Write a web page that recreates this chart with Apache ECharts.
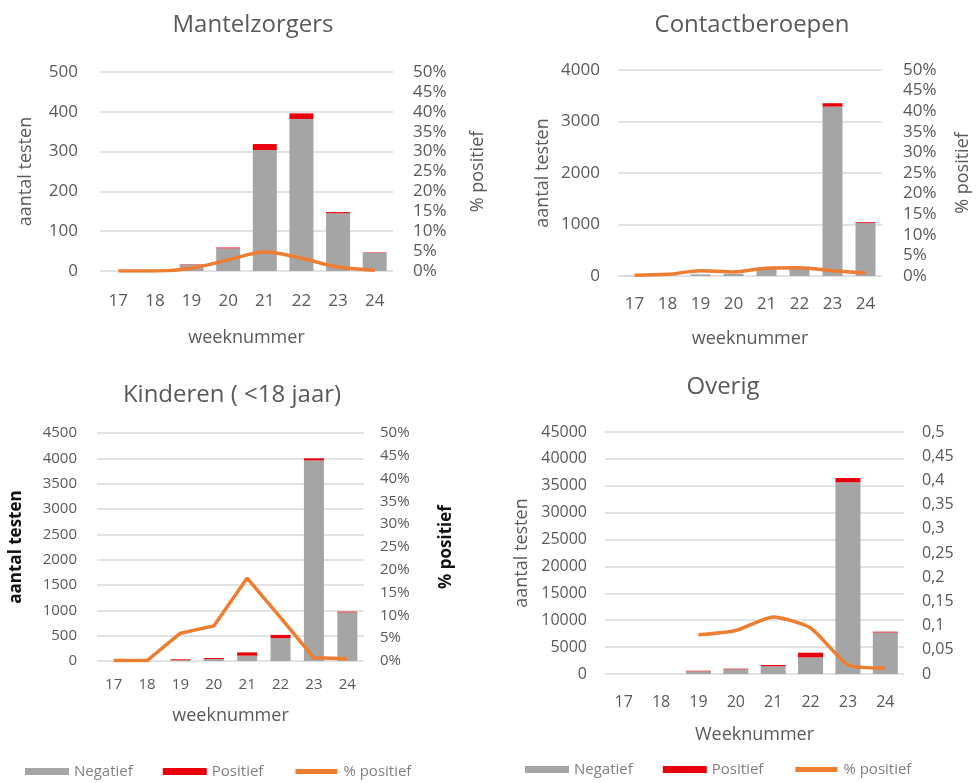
<!DOCTYPE html>
<html>
<head>
<meta charset="utf-8">
<script src="https://cdn.jsdelivr.net/npm/echarts@6/dist/echarts.min.js"></script>
<style>
  html, body { margin: 0; padding: 0; background: #fff; }
  #chart { width: 977px; height: 783px; }
</style>
</head>
<body>
<div id="chart"></div>
<script>
// weeks
const weeks = ['17', '18', '19', '20', '21', '22', '23', '24']

// Mantelzorgers
const mantelNeg = [0, 0, 16, 57, 304, 382, 145, 46]
const mantelPos = [0, 0, 1, 2, 15, 14, 3, 1]
const mantelPct = [0, 0, 0.007, 0.028, 0.048, 0.032, 0.01, 0.002]

// Contactberoepen
const contactNeg = [5, 10, 30, 40, 150, 170, 3290, 1030]
const contactPos = [0, 0, 1, 1, 3, 4, 65, 15]
const contactPct = [0.002, 0.004, 0.013, 0.01, 0.019, 0.02, 0.013, 0.007]

// Kinderen (<18 jaar)
const kindNeg = [0, 0, 15, 40, 105, 450, 3960, 960]
const kindPos = [0, 0, 18, 20, 65, 65, 40, 15]
const kindPct = [0.001, 0.001, 0.061, 0.077, 0.182, 0.095, 0.007, 0.005]

// Overig
const overigNeg = [0, 0, 500, 870, 1450, 3100, 35650, 7720]
const overigPos = [0, 0, 110, 120, 220, 860, 800, 150]
const overigPct = [null, null, 0.081, 0.09, 0.118, 0.095, 0.019, 0.012]

const leftMax = [500, 4000, 4500, 45000]
const leftStep = [100, 1000, 500, 5000]

const grey = '#a5a5a5'
const red = '#e8000b'
const orange = '#ed7d31'
const txt = '#595959'
const font = 'Open Sans'

const panels = [
  { title: 'Mantelzorgers', neg: mantelNeg, pos: mantelPos, pct: mantelPct,
    grid: { left: 100, top: 72, width: 293, height: 199 }, tx: 248, ty: 8,
    fs: 17, lm: 22, rm: 20, xm: 22, yGap: 65, rGap: 76, xGap: 58, bw: 24, smooth: 0.35 },
  { title: 'Contactberoepen', neg: contactNeg, pos: contactPos, pct: contactPct,
    grid: { left: 618, top: 70, width: 264, height: 206 }, tx: 747, ty: 8,
    fs: 17, lm: 18, rm: 21, xm: 20, yGap: 66, rGap: 72, xGap: 54, bw: 20, smooth: 0.3 },
  { title: 'Kinderen ( <18 jaar)', neg: kindNeg, pos: kindPos, pct: kindPct,
    grid: { left: 97, top: 433, width: 267, height: 228 }, tx: 227, ty: 378,
    fs: 15, lm: 20, rm: 16, xm: 16, yGap: 72, rGap: 74, xGap: 46, bw: 20, smooth: false, bold: true },
  { title: 'Overig', neg: overigNeg, pos: overigPos, pct: overigPct,
    grid: { left: 605, top: 432, width: 299, height: 242 }, tx: 718, ty: 370,
    fs: 16, lm: 18, rm: 18, xm: 20, yGap: 74, rGap: 0, xGap: 52, bw: 25, smooth: 0.2, comma: true }
]

const legendData = [
  { name: 'Negatief', icon: 'rect' },
  { name: 'Positief', icon: 'rect' },
  { name: '% positief', icon: 'rect', itemStyle: { color: orange, borderColor: '#fff', borderWidth: 2 } }
]

const option = {
  animation: false,
  textStyle: { fontFamily: font },
  title: [],
  grid: [],
  xAxis: [],
  yAxis: [],
  series: [],
  legend: [
    { left: 20, top: 759, itemWidth: 44, itemHeight: 7, itemGap: 30,
      textStyle: { color: '#7f7f7f', fontSize: 15, fontFamily: font }, data: legendData },
    { left: 520, top: 757, itemWidth: 44, itemHeight: 7, itemGap: 30,
      textStyle: { color: '#7f7f7f', fontSize: 15, fontFamily: font }, data: legendData }
  ]
}

panels.forEach((p, i) => {
  option.title.push({
    text: p.title, left: p.tx, top: p.ty, textAlign: 'center',
    textStyle: { color: txt, fontSize: 24, fontWeight: 'normal', fontFamily: font }
  })
  option.grid.push(p.grid)
  option.xAxis.push({
    type: 'category', gridIndex: i, data: weeks,
    name: i === 3 ? 'Weeknummer' : 'weeknummer',
    nameLocation: 'middle', nameGap: p.xGap,
    nameTextStyle: { color: txt, fontSize: 18, fontFamily: font },
    axisLine: { show: false }, axisTick: { show: false },
    axisLabel: { color: txt, fontSize: p.fs, margin: p.xm, fontFamily: font }
  })
  option.yAxis.push({
    type: 'value', gridIndex: i, min: 0, max: leftMax[i], interval: leftStep[i],
    name: 'aantal testen', nameLocation: 'middle', nameGap: p.yGap,
    nameTextStyle: p.bold
      ? { color: '#111', fontSize: 17, fontWeight: 'bold', fontFamily: font }
      : { color: txt, fontSize: 18, fontFamily: font },
    axisLine: { show: false }, axisTick: { show: false },
    axisLabel: { color: txt, fontSize: p.fs, margin: p.lm, fontFamily: font, formatter: v => String(v) },
    splitLine: { lineStyle: { color: '#d9d9d9', width: 1.5 } }
  })
  option.yAxis.push({
    type: 'value', gridIndex: i, position: 'right', min: 0, max: 0.5, interval: 0.05,
    name: p.comma ? '' : '% positief', nameLocation: 'middle', nameGap: p.rGap,
    nameTextStyle: p.bold
      ? { color: '#111', fontSize: 17, fontWeight: 'bold', fontFamily: font }
      : { color: txt, fontSize: 18, fontFamily: font },
    axisLine: { show: false }, axisTick: { show: false }, splitLine: { show: false },
    axisLabel: {
      color: txt, fontSize: p.fs, margin: p.rm, fontFamily: font,
      formatter: v => p.comma ? String(+v.toFixed(2)).replace('.', ',') : Math.round(v * 100) + '%'
    }
  })
  option.series.push(
    { name: 'Negatief', type: 'bar', stack: 's' + i, xAxisIndex: i, yAxisIndex: i * 2,
      barWidth: p.bw, itemStyle: { color: grey }, data: p.neg },
    { name: 'Positief', type: 'bar', stack: 's' + i, xAxisIndex: i, yAxisIndex: i * 2,
      barWidth: p.bw, itemStyle: { color: red }, data: p.pos },
    { name: '% positief', type: 'line', xAxisIndex: i, yAxisIndex: i * 2 + 1,
      smooth: p.smooth, symbol: 'none', connectNulls: false,
      lineStyle: { color: orange, width: 3.5 }, itemStyle: { color: orange }, data: p.pct }
  )
})

const mycharts = echarts.init(document.getElementById('chart'))
mycharts.setOption(option)
</script>
</body>
</html>
